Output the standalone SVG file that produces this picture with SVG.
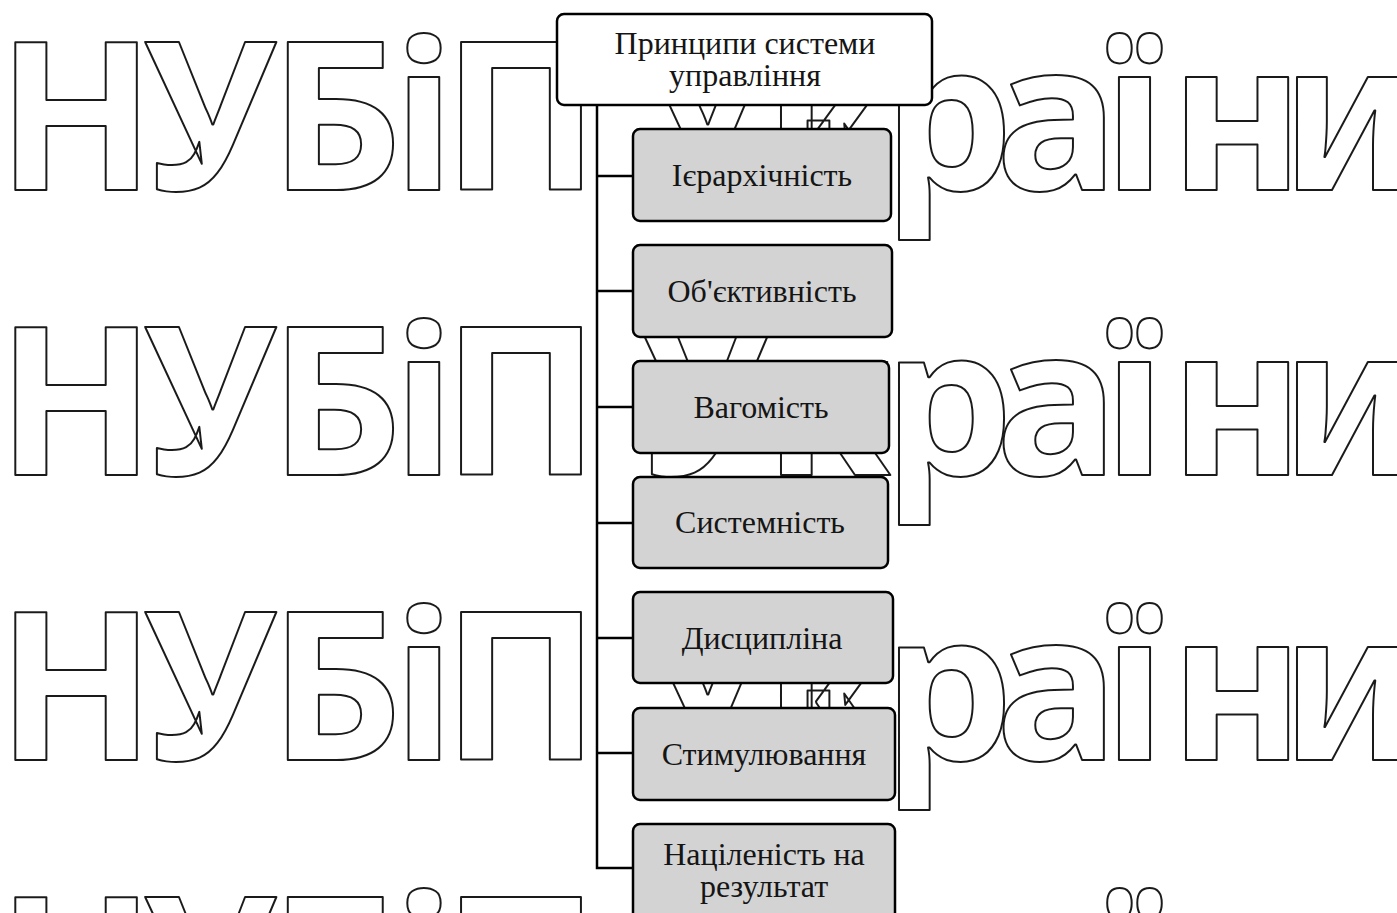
<svg xmlns="http://www.w3.org/2000/svg" width="1397" height="913" viewBox="0 0 1397 913">
<style>
.wm{font-family:"Noto Sans","DejaVu Sans",sans-serif;font-weight:700;font-size:206px;fill:none;stroke:#1a1a1a;stroke-width:2;stroke-linejoin:round;text-anchor:middle}
.box{fill:#d3d3d3;stroke:#000;stroke-width:2.5}
.hdr{fill:#fff;stroke:#000;stroke-width:2.5}
.t{font-family:"Liberation Serif","Times New Roman",serif;font-size:32px;fill:#151515;text-anchor:middle}
.conn{stroke:#000;stroke-width:2.5;fill:none}
</style>
<rect width="1397" height="913" fill="#fff"/>
<g id="watermark">
<text class="wm" x="76 210 336 424 521" y="190">НУБіП</text>
<text class="wm" x="705 828 948 1057 1133 1237 1350" y="190">України</text>
<text class="wm" x="76 210 336 424 521" y="475">НУБіП</text>
<text class="wm" x="705 828 948 1057 1133 1237 1350" y="475">України</text>
<text class="wm" x="76 210 336 424 521" y="760">НУБіП</text>
<text class="wm" x="705 828 948 1057 1133 1237 1350" y="760">України</text>
<text class="wm" x="76 210 336 424 521" y="1045">НУБіП</text>
<text class="wm" x="705 828 948 1057 1133 1237 1350" y="1045">України</text>
</g>
<g id="connectors">
<path class="conn" d="M597 105 V868 H633 M597 176 H633 M597 291 H633 M597 407 H633 M597 523 H633 M597 638 H633 M597 753 H633"/>
</g>
<g id="header">
<rect class="hdr" x="557" y="14" width="375" height="91" rx="7"/>
<text class="t" x="745" y="54">Принципи системи</text>
<text class="t" x="745" y="86">управління</text>
</g>
<g id="n1">
<rect class="box" x="633" y="129" width="258" height="92" rx="7"/>
<text class="t" x="762" y="186">Ієрархічність</text>
</g>
<g id="n2">
<rect class="box" x="633" y="245" width="259" height="92" rx="7"/>
<text class="t" x="762" y="302">Об'єктивність</text>
</g>
<g id="n3">
<rect class="box" x="633" y="361" width="256" height="92" rx="7"/>
<text class="t" x="761" y="418">Вагомість</text>
</g>
<g id="n4">
<rect class="box" x="633" y="477" width="255" height="91" rx="7"/>
<text class="t" x="760" y="533">Системність</text>
</g>
<g id="n5">
<rect class="box" x="633" y="592" width="260" height="91" rx="7"/>
<text class="t" x="762" y="649">Дисципліна</text>
</g>
<g id="n6">
<rect class="box" x="633" y="708" width="262" height="92" rx="7"/>
<text class="t" x="764" y="765">Стимулювання</text>
</g>
<g id="n7">
<rect class="box" x="633" y="824" width="262" height="96" rx="7"/>
<text class="t" x="764" y="865">Націленість на</text>
<text class="t" x="764" y="897">результат</text>
</g>
</svg>
